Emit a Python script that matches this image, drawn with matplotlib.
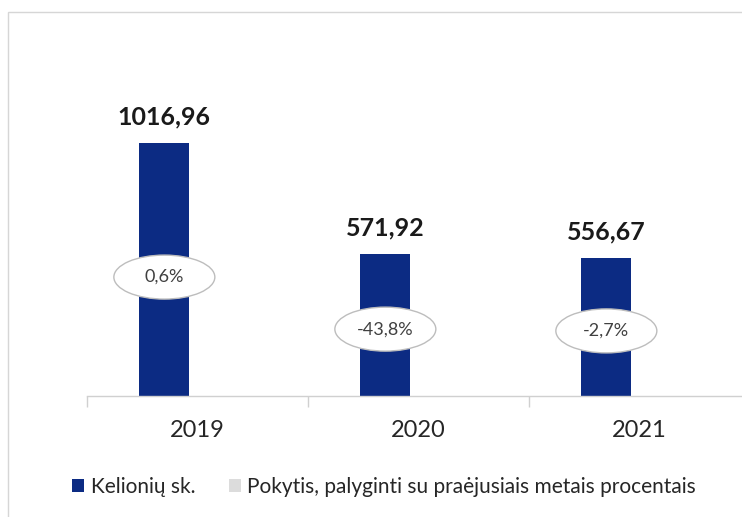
import matplotlib
matplotlib.use("Agg")
import matplotlib.pyplot as plt
from matplotlib.patches import Ellipse, Rectangle, Patch
import numpy as np

plt.rcParams['font.family'] = ['Lato', 'DejaVu Sans']

years = ["2019", "2020", "2021"]
trips = [1016.96, 571.92, 556.67]
trips_labels = ["1016,96", "571,92", "556,67"]
change_labels = ["0,6%", "-43,8%", "-2,7%"]
legend_labels = ["Kelionių sk.", "Pokytis, palyginti su praėjusiais metais procentais"]

W, H = 742, 517
fig = plt.figure(figsize=(W / 100, H / 100), dpi=100)
fig.patch.set_facecolor('white')

# outer faint frame
fig.add_artist(Rectangle((8 / W, -0.2), 1.2, 1 - 12 / H + 0.2, transform=fig.transFigure,
                         fill=False, ec='#d6d6d6', lw=1.0))

left, bottom = 87 / W, 1 - 396 / H
ax_w = 663 / W
ax_h = (396 - 40) / H
ax = fig.add_axes([left, bottom, ax_w, ax_h])

x = np.arange(len(years))
bar_color = '#0c2b83'
bw = 0.225
off = -0.15
ax.bar(x + off, trips, width=bw, color=bar_color, zorder=2)

ymax = 1016.96 * 356 / 253
ax.set_ylim(0, ymax)
ax.set_xlim(-0.5, 2.5)

px_per_x = 663 / 3
px_per_y = 356 / ymax

for xi, v, lab, ch in zip(x, trips, trips_labels, change_labels):
    ax.text(xi + off, v + 26 / px_per_y, lab, ha='center', va='center',
            fontsize=18, fontweight='bold', color='#1a1a1a')
    cy = v * 0.47
    ax.add_patch(Ellipse((xi + off, cy), 101 / px_per_x, 44 / px_per_y,
                         fc='white', ec='#bdbdbd', lw=1.0, zorder=3))
    ax.text(xi + off, cy, ch, ha='center', va='center', fontsize=13,
            color='#404040', zorder=4)

for s in ['top', 'right', 'left']:
    ax.spines[s].set_visible(False)
ax.spines['bottom'].set_color('#d0d0d0')
ax.spines['bottom'].set_linewidth(1.0)
ax.set_yticks([])
ax.set_xticks(x)
ax.set_xticklabels(years, fontsize=17, color='#262626')
ax.tick_params(axis='x', which='major', length=0, pad=17)
ax.set_xticks([-0.5, 0.5, 1.5, 2.5], minor=True)
ax.tick_params(axis='x', which='minor', length=8, color='#d0d0d0', width=1.0)

handles = [Patch(fc=bar_color, ec='none'), Patch(fc='#dcdcdc', ec='none')]
fig.legend(handles, legend_labels, loc='center', bbox_to_anchor=(384 / W, 1 - 487 / H),
           ncol=2, frameon=False, fontsize=15, handlelength=0.6, handleheight=0.6,
           handletextpad=0.3, columnspacing=1.6, labelcolor='#262626')

fig.savefig("out.png", dpi=100, facecolor='white')
